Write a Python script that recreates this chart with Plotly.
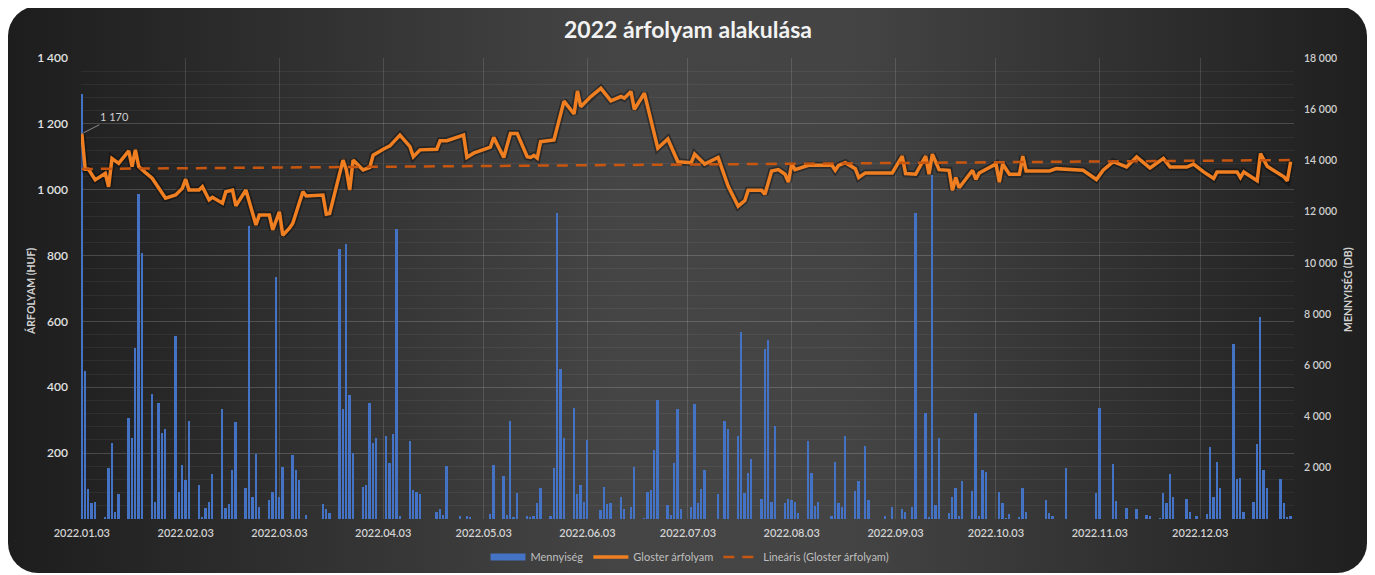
import base64
import pandas as pd
import plotly.graph_objects as go

# ---------------- data ----------------
start_date = "2022-01-03"

# price line (HUF): day offset from 2022-01-03 and value
price_days = [0, 1, 2, 4, 7, 8, 9, 11, 14, 15, 16, 17, 19, 21, 25, 28, 30, 31, 32, 35, 36, 38, 39, 42, 43, 45, 46, 49,
              52, 53, 56, 57, 59, 60, 62, 63, 66, 67, 72, 73, 74, 78, 79, 80, 81, 84, 86, 87, 90, 92, 95, 98, 99, 101,
              106, 107, 109, 114, 115, 117, 122, 123, 126, 128, 130, 133, 134, 135, 136, 137, 141, 144, 147, 148, 149,
              152, 155, 158, 161, 162, 164, 165, 168, 172, 175, 178, 182, 183, 186, 190, 193, 196, 198, 199, 203, 204,
              206, 208, 210, 211, 212, 213, 217, 224, 225, 226, 228, 231, 232, 234, 242, 245, 246, 249, 252, 253, 254,
              256, 259, 260, 261, 262, 266, 267, 268, 273, 274, 275, 277, 280, 281, 282, 289, 291, 299, 303, 305, 308,
              312, 315, 319, 323, 325, 330, 332, 335, 338, 339, 345, 346, 347, 351, 352, 354, 359, 360, 361]
price_values = [1170, 1062, 1062, 1030, 1050, 1009, 1095, 1080, 1118, 1070, 1121, 1070, 1052, 1035, 974, 984, 1004,
                1032, 999, 999, 1009, 969, 977, 959, 994, 999, 951, 999,
                893, 923, 923, 878, 933, 862, 883, 898, 994, 981, 984, 926, 928, 1090, 1060, 999, 1090, 1060, 1068,
                1105, 1123, 1133, 1166, 1131, 1100, 1121,
                1123, 1149, 1149, 1166, 1098, 1111, 1129, 1159, 1098, 1171, 1171, 1100, 1098, 1104, 1096, 1146, 1151,
                1269, 1230, 1300, 1252,
                1283, 1308, 1270, 1283, 1278, 1298, 1244, 1293, 1126, 1154, 1085, 1082, 1108, 1078, 1098, 1011, 950,
                967, 998, 998, 986,
                1057, 1061, 1047, 1023, 1078, 1061, 1074, 1074, 1059, 1074, 1082, 1064, 1037, 1051, 1051, 1102, 1049,
                1047, 1102, 1047, 1108,
                1061, 1059, 998, 1037, 1006, 1059, 1031, 1051, 1078, 1023, 1078, 1047, 1047, 1102, 1057, 1057, 1064,
                1059, 1031, 1059, 1085,
                1069, 1100, 1066, 1095, 1069, 1069, 1078, 1054, 1034, 1054, 1054, 1037, 1054, 1027, 1110, 1071, 1039,
                1027, 1085]

# linear trend of the price (read end points)
trend_days = [0, 361]
trend_values = [1063, 1090]

# traded quantity (DB)
vol_days = [0, 1, 2, 3, 4, 7, 8, 9, 10, 11, 14, 15, 16, 17, 18, 21, 22, 23, 24, 25, 28, 29, 30, 31, 32, 35, 36, 37,
            38, 39, 42, 43, 44, 45, 46, 49, 50, 51, 52, 53, 56, 57, 58, 59, 60, 63, 64, 65, 67, 72, 73, 74, 77, 78,
            79, 80, 81, 84, 85, 86, 87, 88, 91,
            92, 93, 94, 95, 98, 99, 100, 101, 106, 107, 108, 109, 113, 115, 116, 122, 123, 126, 127, 128, 129, 130,
            133, 134, 135, 136, 137, 140, 141, 142, 143, 144, 147, 148, 149, 150, 151, 155, 156, 157, 158, 161, 162,
            164, 165, 168, 169, 170, 171, 172, 175, 176, 177, 178, 179, 182,
            183, 184, 185, 186, 190, 192, 193, 196, 197, 198, 199, 200, 203, 204, 205, 206, 207, 210, 211, 212, 213,
            214, 217, 218, 219, 220, 224, 225, 226, 227, 228, 231, 232, 234, 235, 240, 242, 245, 246, 248, 249, 252,
            253, 254, 255, 256, 259, 260, 261, 262, 263, 266, 267, 268, 269, 270,
            274, 275, 276, 277, 280, 281, 282, 288, 289, 290, 294, 303, 304, 308, 309, 312, 315, 318, 319, 322, 323,
            324, 325, 326, 330, 331, 333, 336, 337, 338, 339, 340, 344, 345, 346, 347, 350, 351, 352, 353, 354, 358,
            359, 360, 361]
vol_values = [16600, 5780, 1160, 640, 680, 70, 1980, 2980, 290, 960, 3930, 3170, 6670, 12690, 10370, 4880, 680, 4540,
              3370, 3500, 7160, 1070, 2110, 1520, 3830, 1330, 50, 420,
              680, 1760, 4280, 420, 590, 1910, 3800, 1200, 11440, 850, 2530, 480, 740, 1070, 9460, 870, 2040, 2500,
              1910, 1520, 160, 590, 380, 220, 10530, 4280,
              10740, 4840, 2560, 1240, 1330, 4540, 2950, 3170, 3240,
              2200, 3320, 11310, 120, 3050, 1130, 1070, 980, 290, 390, 160, 2080, 100, 100, 50, 200, 2110, 1680, 160,
              3830, 50, 1000,
              100, 80, 100, 610, 1220, 120, 1980, 11940, 5860, 3150, 4320, 960, 1330, 680, 3090, 350, 1240, 590, 640,
              850, 380,
              460, 2040, 30, 1070, 1130, 2690, 4650, 530, 160, 2200, 4280, 380, 480,
              4490, 610, 1160, 1910, 960, 3830, 3500, 3240, 7310, 1000, 1780, 2330, 770, 6640, 6990, 680, 3630, 610,
              800, 740, 680,
              240, 3060, 1780, 500, 680, 100, 2240, 640, 480, 3240, 1110, 1480, 2850, 740, 100, 480, 380, 290, 480,
              11940, 4150,
              80, 13430, 530, 3150, 240, 870, 1200, 100, 1480, 1110, 4150, 100, 1930, 1850,
              1070, 640, 30, 200, 50, 1200, 260, 740, 220, 100, 1980, 1030, 4350, 2150, 720, 440, 390, 160, 100, 30,
              1000,
              610, 1740, 850, 770, 290, 120, 200, 2800, 870, 2240, 1200, 6830, 1560, 1590, 290, 660, 2910, 7870, 1930,
              1200, 1560,
              610, 50, 100]

month_ticks = ["2022-01-03", "2022-02-03", "2022-03-03", "2022-04-03", "2022-05-03", "2022-06-03",
               "2022-07-03", "2022-08-03", "2022-09-03", "2022-10-03", "2022-11-03", "2022-12-03"]
price_ticks = [0, 200, 400, 600, 800, 1000, 1200, 1400]
vol_ticks = [0, 2000, 4000, 6000, 8000, 10000, 12000, 14000, 16000, 18000]

title_text = "2022 árfolyam alakulása"
price_label = "1 170"

# ---------------- build ----------------
t0 = pd.Timestamp(start_date)
to_dates = lambda days: [t0 + pd.Timedelta(days=d) for d in days]
price_x = to_dates(price_days)
vol_x = to_dates(vol_days)
trend_x = to_dates(trend_days)

# page has an 8px body margin, so the figure is 8px smaller and shifted
OFF = 8
W, H = 1375 - OFF, 575 - OFF
ML, MR, MT, MB = 81 - OFF, 81, 58 - OFF, 56
PW, PH = W - ML - MR, H - MT - MB

FONT = "Lato"
ORANGE = "#f07f22"
BLUE = "#4472c4"

def spaced(v):
    return f"{v:,}".replace(",", " ")

fig = go.Figure()

fig.add_trace(go.Bar(
    x=vol_x, y=vol_values, name="Mennyiség", yaxis="y", showlegend=False,
    marker=dict(color=BLUE, line=dict(width=0)),
    width=0.55 * 86400000,
))
# legend entry for the bars (wide rectangle swatch like the original)
fig.add_trace(go.Scatter(
    x=[None], y=[None], name="Mennyiség", yaxis="y", mode="lines",
    line=dict(color=BLUE, width=7),
))
fig.add_trace(go.Scatter(
    x=price_x, y=price_values, yaxis="y2", mode="lines", showlegend=False, hoverinfo="skip",
    line=dict(color="rgba(0,0,0,0.35)", width=7, shape="linear"),
))
fig.add_trace(go.Scatter(
    x=price_x, y=price_values, name="Gloster árfolyam", yaxis="y2", mode="lines",
    line=dict(color=ORANGE, width=3.5),
))
fig.add_trace(go.Scatter(
    x=trend_x, y=trend_values, name="Lineáris (Gloster árfolyam)", yaxis="y2", mode="lines",
    line=dict(color="#c9560f", width=2.5, dash="11px,8px"),
))

# background card (rounded rect with gradient)
svg = f'''<svg xmlns="http://www.w3.org/2000/svg" width="{W}" height="{H}" viewBox="0 0 {W} {H}" preserveAspectRatio="none">
<defs><linearGradient id="g" x1="0" y1="0" x2="1" y2="0">
<stop offset="0" stop-color="#1d1d1d"/><stop offset="0.45" stop-color="#454545"/>
<stop offset="0.62" stop-color="#444444"/><stop offset="1" stop-color="#1f1f1f"/></linearGradient></defs>
<rect x="0" y="-2" width="1359" height="567" rx="30" ry="30" fill="url(#g)"/></svg>'''
uri = "data:image/svg+xml;base64," + base64.b64encode(svg.encode()).decode()

fig.update_layout(
    width=W, height=H,
    margin=dict(l=ML, r=MR, t=MT, b=MB, autoexpand=False),
    paper_bgcolor="white", plot_bgcolor="rgba(0,0,0,0)",
    separators=", ",
    font=dict(family=FONT, color="#d9d9d9"),
    images=[dict(source=uri, xref="paper", yref="paper", x=-ML / PW, y=1 + MT / PH,
                 sizex=W / PW, sizey=H / PH, sizing="stretch", layer="below", xanchor="left", yanchor="top")],
    title=dict(text="<b>" + title_text + "</b>", x=(688 - OFF) / W, xanchor="center", y=1 - (30 - OFF) / H,
               yanchor="middle", font=dict(family=FONT, size=23, color="#f2f2f2")),
    bargap=0,
    showlegend=True,
    legend=dict(orientation="h", x=(690 - 81) / PW, xanchor="center", yref="container",
                y=1 - (557 - OFF) / H, yanchor="middle",
                font=dict(family=FONT, size=11, color="#bfbfbf"), bgcolor="rgba(0,0,0,0)", itemwidth=35),
    xaxis=dict(
        type="date", range=[t0 - pd.Timedelta(hours=6), t0 + pd.Timedelta(days=362)],
        tickvals=month_ticks, ticktext=[m.replace("-", ".") for m in month_ticks],
        tickfont=dict(family=FONT, size=11, color="#d2d2d2", weight=600),
        showgrid=True, gridcolor="rgba(255,255,255,0.13)", gridwidth=1, automargin=False,
        showline=False, zeroline=False, ticks="", ticklabelstandoff=6,
    ),
    yaxis=dict(
        range=[0, 18000], side="right", tickvals=vol_ticks,
        ticktext=["" if v == 0 else spaced(v) for v in vol_ticks],
        tickfont=dict(family=FONT, size=10.5, color="#cfcfcf", weight=600), automargin=False,
        showgrid=False, zeroline=False, showline=False, ticks="", ticklabelstandoff=9,
    ),
    yaxis2=dict(
        range=[0, 1400], side="left", overlaying="y", tickvals=price_ticks,
        ticktext=["" if v == 0 else spaced(v) for v in price_ticks],
        tickfont=dict(family=FONT, size=12, color="#e2e2e2", weight=600), automargin=False,
        showgrid=True, gridcolor="rgba(255,255,255,0.13)", gridwidth=1,
        minor=dict(dtick=40, showgrid=True, gridcolor="rgba(255,255,255,0.055)", gridwidth=1),
        zeroline=False, showline=False, ticks="", ticklabelstandoff=12,
    ),
    annotations=[
        dict(text="<b>ÁRFOLYAM (HUF)</b>", xref="paper", yref="paper", x=-(81 - 30) / PW, y=(519 - 292) / PH,
             xanchor="center", yanchor="middle",
             textangle=-90, showarrow=False, font=dict(family=FONT, size=10.5, color="#d0d0d0")),
        dict(text="<b>MENNYISÉG (DB)</b>", xref="paper", yref="paper", x=1 + (1347 - 1294) / PW,
             y=(519 - 290) / PH, xanchor="center", yanchor="middle",
             textangle=-90, showarrow=False, font=dict(family=FONT, size=10.5, color="#d0d0d0")),
        dict(text=price_label, x=price_x[0], y=price_values[0], xref="x", yref="y2",
             showarrow=True, arrowhead=0, arrowwidth=1, arrowcolor="#8a8a8a", ax=33, ay=-17,
             xanchor="center", font=dict(family=FONT, size=11, color="#cfcfcf"), standoff=2),
    ],
)

fig.write_html("out.html")
